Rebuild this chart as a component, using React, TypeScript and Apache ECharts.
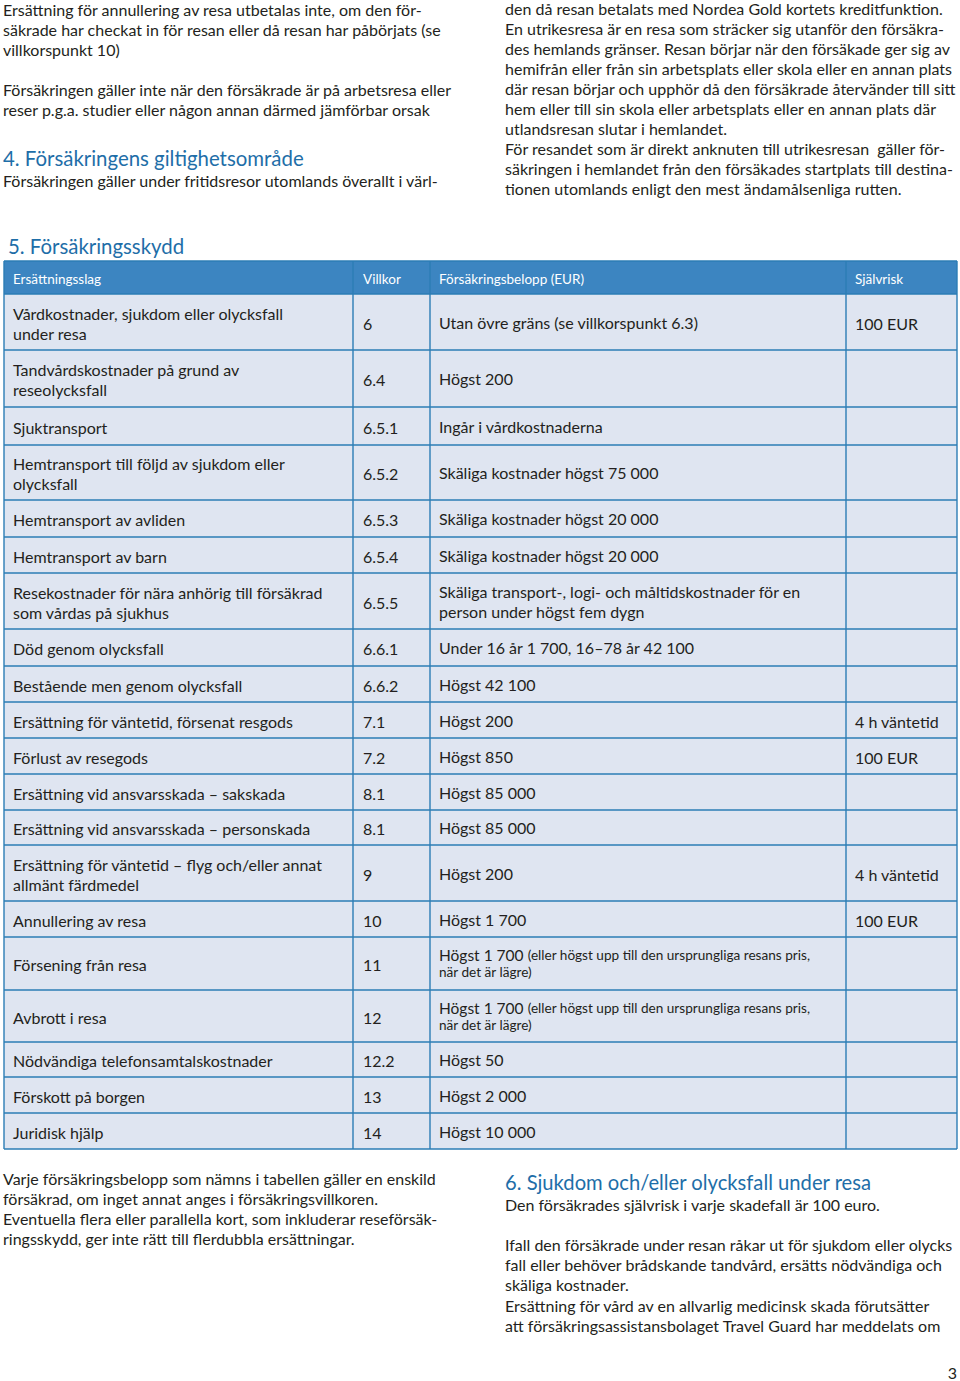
import React, { useEffect, useRef } from "react";
import * as echarts from "echarts";

// ---------- content ----------
const topLeftLines = [
  "Ersättning för annullering av resa utbetalas inte, om den för-",
  "säkrade har checkat in för resan eller då resan har påbörjats (se",
  "villkorspunkt 10)",
  "",
  "Försäkringen gäller inte när den försäkrade är på arbetsresa eller",
  "reser p.g.a. studier eller någon annan därmed jämförbar orsak",
];
const heading4 = "4. Försäkringens giltighetsområde";
const heading4Body = "Försäkringen gäller under fritidsresor utomlands överallt i värl-";
const topRightLines = [
  "den då resan betalats med Nordea Gold kortets kreditfunktion.",
  "En utrikesresa är en resa som sträcker sig utanför den försäkra-",
  "des hemlands gränser. Resan börjar när den försäkade ger sig av",
  "hemifrån eller från sin arbetsplats eller skola eller en annan plats",
  "där resan börjar och upphör då den försäkrade återvänder till sitt",
  "hem eller till sin skola eller arbetsplats eller en annan plats där",
  "utlandsresan slutar i hemlandet.",
  "För resandet som är direkt anknuten till utrikesresan  gäller för-",
  "säkringen i hemlandet från den försäkades startplats till destina-",
  "tionen utomlands enligt den mest ändamålsenliga rutten.",
];
const heading5 = "5. Försäkringsskydd";
const tableHeaders = ["Ersättningsslag", "Villkor", "Försäkringsbelopp (EUR)", "Självrisk"];
const categories = [
  "Vårdkostnader, sjukdom eller olycksfall\nunder resa",
  "Tandvårdskostnader på grund av\nreseolycksfall",
  "Sjuktransport",
  "Hemtransport till följd av sjukdom eller\nolycksfall",
  "Hemtransport av avliden",
  "Hemtransport av barn",
  "Resekostnader för nära anhörig till försäkrad\nsom vårdas på sjukhus",
  "Död genom olycksfall",
  "Bestående men genom olycksfall",
  "Ersättning för väntetid, försenat resgods",
  "Förlust av resegods",
  "Ersättning vid ansvarsskada – sakskada",
  "Ersättning vid ansvarsskada – personskada",
  "Ersättning för väntetid – flyg och/eller annat\nallmänt färdmedel",
  "Annullering av resa",
  "Försening från resa",
  "Avbrott i resa",
  "Nödvändiga telefonsamtalskostnader",
  "Förskott på borgen",
  "Juridisk hjälp",
];
const villkor = [
  "6", "6.4", "6.5.1", "6.5.2", "6.5.3", "6.5.4", "6.5.5", "6.6.1", "6.6.2", "7.1",
  "7.2", "8.1", "8.1", "9", "10", "11", "12", "12.2", "13", "14",
];
const belopp = [
  "Utan övre gräns (se villkorspunkt 6.3)",
  "Högst 200",
  "Ingår i vårdkostnaderna",
  "Skäliga kostnader högst 75 000",
  "Skäliga kostnader högst 20 000",
  "Skäliga kostnader högst 20 000",
  "Skäliga transport-, logi- och måltidskostnader för en\nperson under högst fem dygn",
  "Under 16 år 1 700, 16–78 år 42 100",
  "Högst 42 100",
  "Högst 200",
  "Högst 850",
  "Högst 85 000",
  "Högst 85 000",
  "Högst 200",
  "Högst 1 700",
  "Högst 1 700",
  "Högst 1 700",
  "Högst 50",
  "Högst 2 000",
  "Högst 10 000",
];
const beloppNote = [
  "", "", "", "", "", "", "", "", "", "", "", "", "", "", "",
  "(eller högst upp till den ursprungliga resans pris,\nnär det är lägre)",
  "(eller högst upp till den ursprungliga resans pris,\nnär det är lägre)",
  "", "", "",
];
const sjalvrisk = [
  "100 EUR", "", "", "", "", "", "", "", "", "4 h väntetid",
  "100 EUR", "", "", "4 h väntetid", "100 EUR", "", "", "", "", "",
];
const bottomLeftLines = [
  "Varje försäkringsbelopp som nämns i tabellen gäller en enskild",
  "försäkrad, om inget annat anges i försäkringsvillkoren.",
  "Eventuella flera eller parallella kort, som inkluderar reseförsäk-",
  "ringsskydd, ger inte rätt till flerdubbla ersättningar.",
];
const heading6 = "6. Sjukdom och/eller olycksfall under resa";
const bottomRightLines = [
  "Den försäkrades självrisk i varje skadefall är 100 euro.",
  "",
  "Ifall den försäkrade under resan råkar ut för sjukdom eller olycks",
  "fall eller behöver brådskande tandvård, ersätts nödvändiga och",
  "skäliga kostnader.",
  "Ersättning för vård av en allvarlig medicinsk skada förutsätter",
  "att försäkringsassistansbolaget Travel Guard har meddelats om",
];
const pageNumber = "3";

// ---------- layout / style ----------
const FONT = "Lato, 'Open Sans', sans-serif";
const TEXT = "#231f20";
const BLUE_HEAD = "#1e6ea8";
const HEADER_BG = "#3c85c1";
const CELL_BG = "#dfe5f1";
const GRID = "#2b7db5";
const FS = 16;
const LH = 20;

const TABLE_X0 = 4;
const TABLE_X1 = 957;
const COL_X = [4, 353, 430, 846];
const HEADER_Y0 = 261;
const HEADER_Y1 = 294;
const ROW_H = [56, 57, 38, 55, 37, 36, 56, 37, 36, 36, 36, 36, 35, 56, 36, 53, 52, 35, 36, 36];

function textEl(text: string, x: number, y: number, opts: any = {}) {
  return {
    type: "text",
    silent: true,
    x,
    y,
    style: {
      text,
      font: `${opts.weight || "normal"} ${opts.size || FS}px ${FONT}`,
      fill: opts.fill || TEXT,
      align: opts.align || "left",
      verticalAlign: "middle",
      lineHeight: opts.lineHeight || LH,
      ...(opts.rich ? { rich: opts.rich } : {}),
    },
    z: 10,
  };
}

function buildElements() {
  const els: any[] = [];
  // top left
  topLeftLines.forEach((t, i) => {
    if (t) els.push(textEl(t, 3, 9 + i * LH));
  });
  els.push(textEl(heading4, 3, 158, { size: 20.4, fill: BLUE_HEAD }));
  els.push(textEl(heading4Body, 3, 180));
  topRightLines.forEach((t, i) => els.push(textEl(t, 505, 8 + i * LH)));

  els.push(textEl(heading5, 8, 246, { size: 20.4, fill: BLUE_HEAD }));

  // table
  const rowTops: number[] = [];
  let y = HEADER_Y1;
  ROW_H.forEach((h) => {
    rowTops.push(y);
    y += h;
  });
  const tableBottom = y;

  els.push({
    type: "rect",
    silent: true,
    shape: { x: TABLE_X0, y: HEADER_Y0, width: TABLE_X1 - TABLE_X0, height: HEADER_Y1 - HEADER_Y0 },
    style: { fill: HEADER_BG },
    z: 1,
  });
  els.push({
    type: "rect",
    silent: true,
    shape: { x: TABLE_X0, y: HEADER_Y1, width: TABLE_X1 - TABLE_X0, height: tableBottom - HEADER_Y1 },
    style: { fill: CELL_BG },
    z: 1,
  });
  const lineStyle = { stroke: GRID, lineWidth: 1.4 };
  // horizontal lines
  [HEADER_Y0, HEADER_Y1, ...rowTops.slice(1), tableBottom].forEach((ly) => {
    els.push({
      type: "line",
      silent: true,
      shape: { x1: TABLE_X0, y1: ly, x2: TABLE_X1, y2: ly },
      style: lineStyle,
      z: 5,
    });
  });
  // vertical lines
  [...COL_X, TABLE_X1].forEach((lx) => {
    els.push({
      type: "line",
      silent: true,
      shape: { x1: lx, y1: HEADER_Y0, x2: lx, y2: tableBottom },
      style: lineStyle,
      z: 5,
    });
  });

  const padX = [9, 10, 9, 9];
  tableHeaders.forEach((h, c) => {
    els.push(textEl(h, COL_X[c] + padX[c], 279, { size: 13.5, fill: "#ffffff" }));
  });

  categories.forEach((cat, r) => {
    const cy = rowTops[r] + ROW_H[r] / 2;
    els.push(textEl(cat, COL_X[0] + padX[0], cy + 1));
    els.push(textEl(villkor[r], COL_X[1] + padX[1], cy + 1));
    if (beloppNote[r]) {
      const noteLines = beloppNote[r].split("\n");
      const txt =
        `{a|${belopp[r]}} {b|${noteLines[0]}}\n` + noteLines.slice(1).map((l) => `{b|${l}}`).join("\n");
      els.push(
        textEl(txt, COL_X[2] + padX[2], cy, {
          lineHeight: 17,
          rich: {
            a: { font: `normal 15.5px ${FONT}`, fill: TEXT, lineHeight: 17 },
            b: { font: `normal 13.6px ${FONT}`, fill: TEXT, lineHeight: 17 },
          },
        })
      );
    } else {
      els.push(textEl(belopp[r], COL_X[2] + padX[2], cy));
    }
    if (sjalvrisk[r]) els.push(textEl(sjalvrisk[r], COL_X[3] + padX[3], cy + 1));
  });

  bottomLeftLines.forEach((t, i) => els.push(textEl(t, 3, 1178 + i * LH)));
  els.push(textEl(heading6, 505, 1182, { size: 20.2, fill: BLUE_HEAD }));
  bottomRightLines.forEach((t, i) => {
    if (t) els.push(textEl(t, 505, 1204 + i * 20.2));
  });
  els.push(textEl(pageNumber, 957, 1372, { align: "right", lineHeight: 15 }));
  return els;
}

export default function App() {
  const ref = useRef<HTMLDivElement>(null);
  useEffect(() => {
    const chart = echarts.init(ref.current!, null, { renderer: "svg" });
    chart.setOption({
      animation: false,
      backgroundColor: "#ffffff",
      graphic: { elements: buildElements() },
    });
    return () => chart.dispose();
  }, []);
  return (
    <div
      ref={ref}
      style={{ position: "absolute", left: 0, top: 0, width: 960, height: 1381, background: "#fff" }}
    />
  );
}
